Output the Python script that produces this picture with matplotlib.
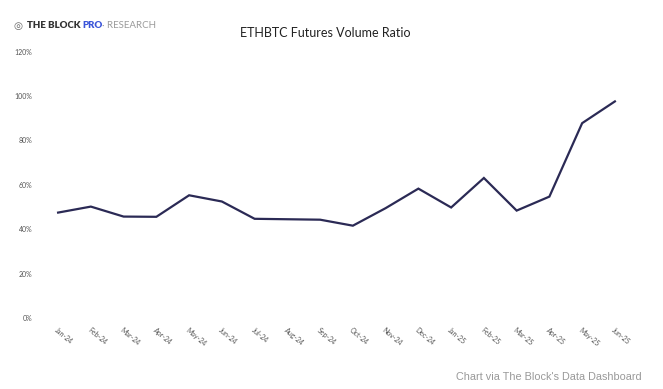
import matplotlib
matplotlib.use("Agg")
import matplotlib.pyplot as plt
from matplotlib.ticker import FuncFormatter

months = ["Jan-24", "Feb-24", "Mar-24", "Apr-24", "May-24", "Jun-24", "Jul-24", "Aug-24", "Sep-24",
          "Oct-24", "Nov-24", "Dec-24", "Jan-25", "Feb-25", "Mar-25", "Apr-25", "May-25", "Jun-25"]
ratio = [47.5, 50.2, 45.7, 45.6, 55.3, 52.5, 44.7, 44.5, 44.3,
         41.6, 49.5, 58.3, 49.8, 63.1, 48.4, 54.7, 87.8, 97.6]
yticks = [0, 20, 40, 60, 80, 100, 120]

W, H = 663, 389
fig = plt.figure(figsize=(W / 100, H / 100), dpi=100)
fig.patch.set_facecolor("white")

left, right = 45, 628
bottom, top = 318, 51.7
ax = fig.add_axes([left / W, 1 - bottom / H, (right - left) / W, (bottom - top) / H])

x = list(range(len(months)))
ax.plot(x, ratio, color="#2b2a55", linewidth=1.6, solid_joinstyle="miter")

ax.set_xlim(-0.4, 17.4)
ax.set_ylim(0, 120)
ax.set_yticks(yticks)
ax.yaxis.set_major_formatter(FuncFormatter(lambda v, p: f"{int(v)}%"))
ax.set_xticks(x)
ax.set_xticklabels(months)
for s in ax.spines.values():
    s.set_visible(False)
ax.tick_params(axis="y", length=0, pad=9, labelsize=5, labelcolor="#555555")
ax.tick_params(axis="x", length=0, pad=6, labelsize=5, labelcolor="#555555")
for lab in ax.get_xticklabels():
    lab.set_rotation(-40)
    lab.set_ha("left")
    lab.set_va("top")
    lab.set_rotation_mode("anchor")
for lab in ax.get_yticklabels() + ax.get_xticklabels():
    lab.set_family("Lato")

fig.text(325 / W, 1 - 33 / H, "ETHBTC Futures Volume Ratio", ha="center", va="center",
         fontsize=9, color="#222222", family="Lato")

# logo
fig.text(13 / W, 1 - 26 / H, "◎", ha="left", va="center", fontsize=7.5, color="#666666",
         family="DejaVu Sans")
fig.text(27 / W, 1 - 26 / H, "THE BLOCK", ha="left", va="center", fontsize=7,
         color="#333333", family="Lato", weight="heavy")
fig.text(82 / W, 1 - 26 / H, "PRO", ha="left", va="center", fontsize=7,
         color="#3b55d9", family="Lato", weight="heavy")
fig.text(102 / W, 1 - 26 / H, "· RESEARCH", ha="left", va="center", fontsize=7,
         color="#9a9a9a", family="Lato")

fig.text(642 / W, 1 - 377 / H, "Chart via The Block's Data Dashboard", ha="right", va="center",
         fontsize=7.8, color="#999999", family="Liberation Sans")

fig.savefig("out.png", dpi=100, facecolor="white")
